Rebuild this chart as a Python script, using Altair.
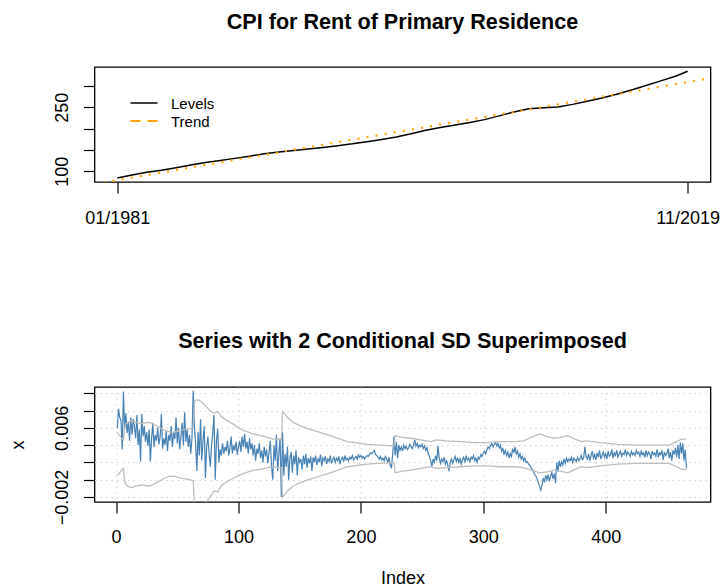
import altair as alt
import pandas as pd

FONT = "Liberation Sans"

# ---------------- top panel: CPI rent levels (January of each year + Nov 2019) ----------------
level_years = list(range(1981, 2020))
level_index = [1 + 12 * k for k in range(len(level_years))] + [467]
level_values = [84.3, 91.3, 97.5, 102.6, 108.5, 115.0, 120.8, 125.5, 130.3, 135.5,
                141.0, 145.2, 148.7, 152.2, 156.0, 160.0, 164.3, 169.4, 174.8, 180.6,
                187.8, 196.0, 202.7, 208.3, 214.2, 221.1, 229.9, 239.1, 246.5, 249.0,
                250.9, 256.9, 264.0, 271.9, 280.6, 290.6, 301.3, 312.0, 323.0, 334.5]
trend_index = [-17.64, 485.64]
trend_values = [70.2, 318.5]
top_tick_index = [1, 467]
top_tick_labels = ["01/1981", "11/2019"]
top_y_ticks = [100, 150, 200, 250, 300]
top_y_labelled = [100, 250]
legend_labels = ["Levels", "Trend"]

# ---------------- bottom panel: monthly log change (units of 1e-4) ----------------
series_e4 = [
    60, 82, 72, 69, 35, 102, 58, 77, 54, 67, 45, 72, 52, 70, 62, 48, 75, 40, 58, 21,
    76, 50, 62, 44, 55, 39, 58, 21, 47, 66, 38, 52, 45, 60, 41, 50, 76, 36, 48, 40,
    57, 33, 52, 45, 62, 38, 55, 47, 72, 42, 60, 35, 50, 66, 40, 78, 44, 58, 38, 52,
    30, 48, 103, 60, 42, 10, 55, 28, 70, 22, 45, 62, 2, 38, 50, 30, 15, 40, 55, 75,
    0, 45, 59, 20, 35, 28, 42, 30, 38, 33, 45, 28, 36, 50, 30, 40, 34, 44, 29, 38,
    45, 32, 50, 38, 53, 36, 44, 30, 48, 35, 42, 28, 40, 22, 36, 30, 42, 25, 34, 20,
    38, 27, 35, 19, 32, 45, 15, 0, 40, 22, 52, 10, 30, 48, -20, 55, 5, 30, 15, 38,
    0, 25, 32, 8, 28, 18, 34, 5, 26, 20, 24, 12, 28, 18, 30, 14, 25, 19, 27, 10,
    26, 20, 28, 17, 24, 21, 29, 16, 25, 22, 27, 18, 24, 21, 28, 19, 23, 26, 20, 25,
    22, 27, 18, 24, 26, 21, 28, 23, 25, 22, 26, 24, 28, 23, 25, 27, 24, 29, 26, 28,
    25, 27, 24, 26, 28, 27, 29, 31, 30, 32, 34, 29, 28, 26, 24, 27, 23, 25, 22, 27,
    24, 20, 26, 16, 14, 30, 50, 28, 44, 25, 40, 34, 38, 33, 40, 36, 39, 35, 37, 41,
    38, 36, 40, 46, 39, 42, 37, 40, 38, 41, 36, 39, 34, 37, 30, 27, 22, 15, 24, 20,
    28, 22, 39, 25, 19, 24, 21, 26, 18, 22, 17, 10, 20, 24, 19, 23, 27, 21, 25, 20,
    24, 18, 23, 26, 21, 27, 23, 25, 21, 26, 24, 28, 22, 25, 20, 26, 24, 29, 27, 31,
    33, 30, 35, 38, 36, 40, 42, 38, 41, 43, 39, 42, 37, 40, 33, 36, 30, 34, 28, 32,
    25, 30, 27, 36, 31, 38, 29, 33, 26, 30, 24, 27, 22, 25, 20, 21, 18, 17, 14, 12,
    9, 6, 4, 1, -4, -8, -12, -6, 2, -3, 5, 0, 6, -2, 4, 8, 1, 7, -4, 20,
    9, 22, 15, 21, 17, 24, 19, 25, 21, 24, 22, 26, 20, 25, 23, 21, 26, 22, 24, 28,
    23, 25, 38, 27, 24, 30, 22, 28, 33, 25, 29, 23, 31, 26, 34, 24, 28, 32, 26, 30,
    24, 33, 27, 29, 35, 25, 31, 28, 34, 26, 30, 33, 27, 31, 29, 35, 28, 32, 30, 27,
    33, 29, 31, 28, 34, 30, 32, 27, 33, 29, 31, 26, 34, 28, 32, 30, 24, 33, 29, 31,
    27, 35, 26, 31, 29, 34, 23, 32, 28, 30, 36, 25, 32, 22, 34, 29, 37, 26, 40, 24,
    43, 30, 42, 22, 35, 13,
]

band_index = [1, 3, 5, 6, 7, 8, 10, 13, 17, 21, 25, 28, 32, 36, 40, 44, 48, 52, 56, 60,
              63, 64, 65, 68, 72, 76, 80, 83, 86, 90, 96, 100, 104, 108, 112, 118, 124, 128, 133, 135,
              136, 138, 140, 145, 151, 159, 166, 175, 189, 205, 215, 227, 228, 234, 241, 249, 257, 262, 270, 282,
              292, 303, 314, 325, 333, 339, 346, 352, 358, 363, 369, 375, 380, 384, 396, 410, 425, 440, 452, 458,
              462, 466]
band_upper_e4 = [54, 51, 47, 46, 60, 65, 67, 68, 66, 65, 66, 66, 63, 60, 57, 55, 55, 57, 58, 59,
                 60, 90, 92, 92, 87, 81, 77, 79, 73, 69, 64, 60, 57, 55, 53, 51, 49, 47, 47, 46,
                 79, 76, 72, 66, 62, 58, 55, 51, 44, 41, 40, 39, 51, 49, 48, 46, 44, 46, 45, 44,
                 43, 43, 44, 44, 45, 49, 53, 50, 48, 49, 51, 47, 44, 45, 43, 41, 40, 40, 40, 44,
                 47, 47]
band_lower_e4 = [5, 8, 12, 13, -1, -6, -8, -9, -7, -6, -7, -7, -4, -1, 2, 4, 4, 2, 1, 0,
                 -1, -31, -33, -33, -28, -22, -13, -14, -7, -3, 2, 5, 7, 9, 11, 12, 14, 15, 14, 14,
                 -20, -17, -13, -7, -3, 1, 4, 8, 15, 18, 19, 20, 8, 10, 11, 13, 15, 13, 14, 15,
                 16, 16, 15, 15, 14, 11, 8, 9, 11, 10, 8, 12, 15, 14, 16, 18, 19, 19, 19, 15,
                 12, 12]
bottom_x_ticks = [0, 100, 200, 300, 400]
bottom_y_ticks = [-0.002, 0.0, 0.002, 0.004, 0.006, 0.008, 0.010]
bottom_y_labelled = [-0.002, 0.006]

x_domain = [-17.64, 485.64]
top_y_domain = [74.9, 344.5]
bottom_y_domain = [-0.00258, 0.01073]

# ---------------- tables ----------------
levels_df = pd.DataFrame({"idx": level_index, "val": level_values})
trend_df = pd.DataFrame({"idx": trend_index, "val": trend_values})
series_df = pd.DataFrame({"idx": list(range(1, len(series_e4) + 1)),
                          "v": [s / 10000 for s in series_e4]})
band_df = pd.concat([
    pd.DataFrame({"idx": band_index, "v": [u / 10000 for u in band_upper_e4], "band": "upper"}),
    pd.DataFrame({"idx": band_index, "v": [l / 10000 for l in band_lower_e4], "band": "lower"}),
])

# ---------------- encodings ----------------
top_label_expr = " : ".join(
    f"datum.value == {i} ? '{lab}'" for i, lab in zip(top_tick_index, top_tick_labels)
) + " : ''"
top_y_expr = "indexof(" + str(top_y_labelled) + ", datum.value) >= 0 ? datum.label : ''"
bot_y_expr = " || ".join(f"abs(datum.value - ({v})) < 1e-9" for v in bottom_y_labelled) + " ? datum.label : ''"

x_top = alt.X("idx:Q", scale=alt.Scale(domain=x_domain, nice=False, zero=False),
              axis=alt.Axis(values=top_tick_index, labelExpr=top_label_expr, title=None,
                            grid=False, labelPadding=30, labelBaseline="alphabetic"))
y_top = alt.Y("val:Q", scale=alt.Scale(domain=top_y_domain, nice=False, zero=False),
              axis=alt.Axis(values=top_y_ticks, labelExpr=top_y_expr, title=None, grid=False,
                            labelAngle=270, labelAlign="center", labelBaseline="alphabetic",
                            labelPadding=16))

levels = alt.Chart(levels_df).mark_line(color="black", strokeWidth=1.5).encode(x=x_top, y=y_top)
trend = alt.Chart(trend_df).mark_line(color="#FFA500", strokeWidth=2.2, strokeDash=[2, 7.2],
                                      clip=True).encode(x=x_top, y=y_top)

leg_lev_line = alt.Chart(pd.DataFrame({"label": [legend_labels[0]]})).mark_rule(
    color="black", strokeWidth=1.5).encode(x=alt.value(36), x2=alt.value(63), y=alt.value(36))
leg_tr_line = alt.Chart(pd.DataFrame({"label": [legend_labels[1]]})).mark_rule(
    color="#FFA500", strokeWidth=2.2, strokeDash=[10, 7]).encode(
    x=alt.value(36), x2=alt.value(63), y=alt.value(54))
leg_lev_text = alt.Chart(pd.DataFrame({"label": [legend_labels[0]]})).mark_text(
    align="left", baseline="middle", font=FONT, fontSize=15, color="black").encode(
    x=alt.value(76.5), y=alt.value(37), text="label:N")
leg_tr_text = alt.Chart(pd.DataFrame({"label": [legend_labels[1]]})).mark_text(
    align="left", baseline="middle", font=FONT, fontSize=15, color="black").encode(
    x=alt.value(76.5), y=alt.value(55), text="label:N")

top = alt.layer(levels, trend, leg_lev_line, leg_tr_line, leg_lev_text, leg_tr_text).properties(
    width=616, height=115,
    title=alt.TitleParams("CPI for Rent of Primary Residence", offset=16, baseline="alphabetic",
                          frame="group", anchor="middle"))

grid_kw = dict(grid=True, gridColor="#D3D3D3", gridDash=[1.5, 4], gridWidth=1)
x_bot = alt.X("idx:Q", scale=alt.Scale(domain=x_domain, nice=False, zero=False),
              axis=alt.Axis(values=bottom_x_ticks, format="d", title="Index", titleX=308, titleY=81,
                            titleAlign="center", titleBaseline="alphabetic", labelPadding=29,
                            labelBaseline="alphabetic", **grid_kw))
y_bot = alt.Y("v:Q", scale=alt.Scale(domain=bottom_y_domain, nice=False, zero=False),
              axis=alt.Axis(values=bottom_y_ticks, format=".3f", labelExpr=bot_y_expr, title="x",
                            titleX=-71.3, titleY=57.5, titleAngle=270, titleAlign="center",
                            titleBaseline="alphabetic", labelAngle=270, labelAlign="center",
                            labelBaseline="alphabetic", labelPadding=16, **grid_kw))

series = alt.Chart(series_df).mark_line(color="#4682B4", strokeWidth=1.2, clip=True).encode(
    x=x_bot, y=y_bot)
bands = alt.Chart(band_df).mark_line(color="#BEBEBE", strokeWidth=1.3, clip=True).encode(
    x=x_bot, y=y_bot, detail="band:N")

bottom = alt.layer(series, bands).properties(
    width=616, height=115,
    title=alt.TitleParams("Series with 2 Conditional SD Superimposed", offset=17,
                          baseline="alphabetic", frame="group", anchor="middle"))

chart = alt.vconcat(top, bottom, spacing=102).properties(
    padding={"left": 8.5, "top": 11, "right": 0, "bottom": 0},
    background="white",
).configure_view(stroke="black", strokeWidth=1.3).configure_axis(
    labelFont=FONT, labelFontSize=18, labelColor="black", titleFont=FONT, titleFontSize=18,
    titleColor="black", titleFontWeight="normal", tickColor="black", tickSize=11, tickWidth=1.2,
    domain=False, labelFlush=False, labelOverlap=False,
).configure_title(font=FONT, fontSize=21.6, fontWeight="bold", color="black")

chart.save("out.html", embed_options={"renderer": "svg", "actions": False})
